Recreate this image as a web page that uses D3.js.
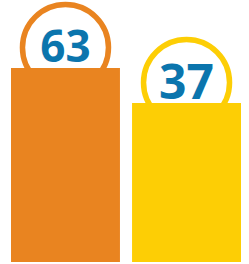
<!DOCTYPE html>
<html><head><meta charset="utf-8">
<script src="https://cdn.jsdelivr.net/npm/d3@7"></script>
<style>html,body{margin:0;padding:0;background:#fff;}svg{display:block;}</style>
</head><body>
<svg id="chart" width="249" height="264"></svg>
<script>
const categories = ["A", "B"];
const values = [63, 37];
const colors = ["#E98420", "#FDCE05"];
const labels = ["63", "37"];

const svg = d3.select("#chart");
const bottom = 262;
const x = d3.scaleBand().domain(categories).range([11, 241]).paddingInner(0.1).paddingOuter(0);
const y = d3.scaleLinear().domain([37, 63]).range([103, 68]);

const data = categories.map((c, i) => ({c, v: values[i], col: colors[i], lab: labels[i]}));
const ringR = 43, ringW = 5.5, lift = 20.5;

const g = svg.selectAll("g.item").data(data).join("g").attr("class", "item");
g.append("circle")
  .attr("cx", d => x(d.c) + x.bandwidth() / 2)
  .attr("cy", d => y(d.v) - lift)
  .attr("r", ringR)
  .attr("fill", "#fff")
  .attr("stroke", d => d.col)
  .attr("stroke-width", ringW);
g.append("rect")
  .attr("x", d => x(d.c))
  .attr("y", d => y(d.v))
  .attr("width", x.bandwidth())
  .attr("height", d => bottom - y(d.v))
  .attr("fill", d => d.col);
g.append("text")
  .attr("x", d => x(d.c) + x.bandwidth() / 2)
  .attr("y", d => y(d.v) - lift)
  .attr("dy", "0.34em")
  .attr("text-anchor", "middle")
  .attr("font-family", "'Open Sans', sans-serif")
  .attr("font-weight", 700)
  .attr("font-size", (d, i) => i === 0 ? 44 : 48)
  .attr("fill", "#0B75AD")
  .text(d => d.lab);
</script>
</body></html>
